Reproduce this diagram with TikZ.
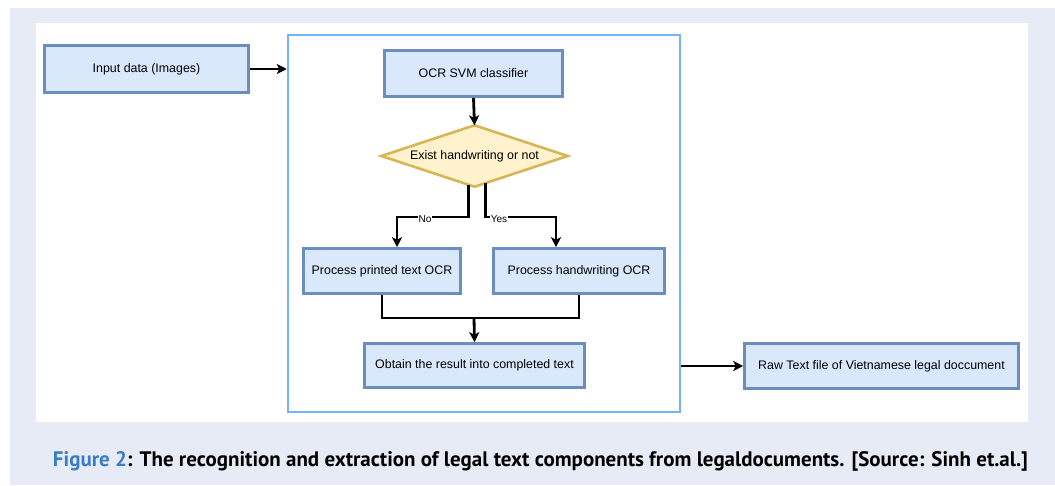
\documentclass[tikz,border=0pt]{standalone}
\usepackage{fontspec}
\setmainfont{Liberation Sans}
\newfontfamily\capfont{PT Sans}
\usetikzlibrary{arrows.meta,backgrounds}
\pgfdeclarelayer{canvasback}
\pgfsetlayers{canvasback,background,main}
\definecolor{bgout}{HTML}{E7EBF6}
\definecolor{boxfill}{HTML}{DAE8FC}
\definecolor{boxline}{HTML}{6C8EBF}
\definecolor{decfill}{HTML}{FFF2CC}
\definecolor{decline}{HTML}{D6B656}
\definecolor{contline}{HTML}{74B4FA}
\definecolor{figblue}{HTML}{3A7DC4}
\tikzset{
  procbox/.style={draw=boxline, fill=boxfill, line width=2.6pt, inner sep=0pt, font=\fontsize{12.4}{14}\selectfont},
  dectext/.style={inner sep=0pt, font=\fontsize{12.4}{14}\selectfont},
  decshape/.style={draw=decline, fill=decfill, line width=2.6pt, line join=miter},
  conn/.style={line width=2.8pt, black},
  arr/.style={conn, -{Stealth[length=10pt,width=10pt,inset=2.5pt]}},
  branchlbl/.style={fill=white, inner sep=0.5pt, font=\fontsize{10}{12}\selectfont}
}
\begin{document}
\begin{tikzpicture}[x=1pt,y=-1pt]
\useasboundingbox (0,0) rectangle (1055,485);
\begin{pgfonlayer}{canvasback}
\fill[bgout] (10,8) rectangle (1055,485);
\fill[white] (36,23) rectangle (1028,422);
\end{pgfonlayer}

\node[draw=contline, line width=2.5pt, minimum width=392pt, minimum height=377pt, inner sep=0pt] (cont) at (484,223.5) {};

\node[procbox, minimum width=204pt, minimum height=47pt] (input) at (146.5,69) {Input data (Images)};
\node[procbox, minimum width=178pt, minimum height=46pt] (svm) at (473.5,73.5) {OCR SVM classifier};
\node[dectext, minimum width=186pt, minimum height=61pt] (dec) at (474.5,156) {Exist handwriting or not};
\begin{scope}[on background layer]
\draw[decshape] (dec.north) -- (dec.east) -- (dec.south) -- (dec.west) -- cycle;
\end{scope}
\node[procbox, minimum width=157pt, minimum height=45pt] (printed) at (382,271) {Process printed text OCR};
\node[procbox, minimum width=171pt, minimum height=45pt] (hand) at (579,271) {Process handwriting OCR};
\node[procbox, minimum width=220pt, minimum height=44pt] (obtain) at (474.5,365.5) {Obtain the result into completed text};
\node[procbox, minimum width=274pt, minimum height=45pt] (raw) at (881.5,366) {Raw Text file of Vietnamese legal doccument};

\coordinate (nobend) at (397,217);
\coordinate (yesbend) at (556,217);
\coordinate (merge) at (474,318);

\draw[arr] (input.east) -- (cont.west |- input.east);
\draw[arr] (svm.south) -- (dec.north);
\draw[arr] ([xshift=-6pt,yshift=2pt]dec.south) |- (nobend) -- (printed.north -| nobend);
\draw[arr] ([xshift=11pt,yshift=3.7pt]dec.south) |- (yesbend) -- (hand.north -| yesbend);
\node[branchlbl] (nolbl) at (425,219.5) {No};
\node[branchlbl] (yeslbl) at (499,219.5) {Yes};

\draw[conn] (printed.south) |- (merge) -| (hand.south);
\draw[arr] (merge) -- (obtain.north);

\draw[arr] (cont.east |- raw.west) -- (raw.west);

\node[anchor=base, inner sep=0pt] (cap) at (540.5,466) {\resizebox{975pt}{15pt}{\capfont\bfseries\textcolor{figblue}{Figure 2}: The recognition and extraction of legal text components from legaldocuments. [Source: Sinh et.al.]}};
\end{tikzpicture}
\end{document}
